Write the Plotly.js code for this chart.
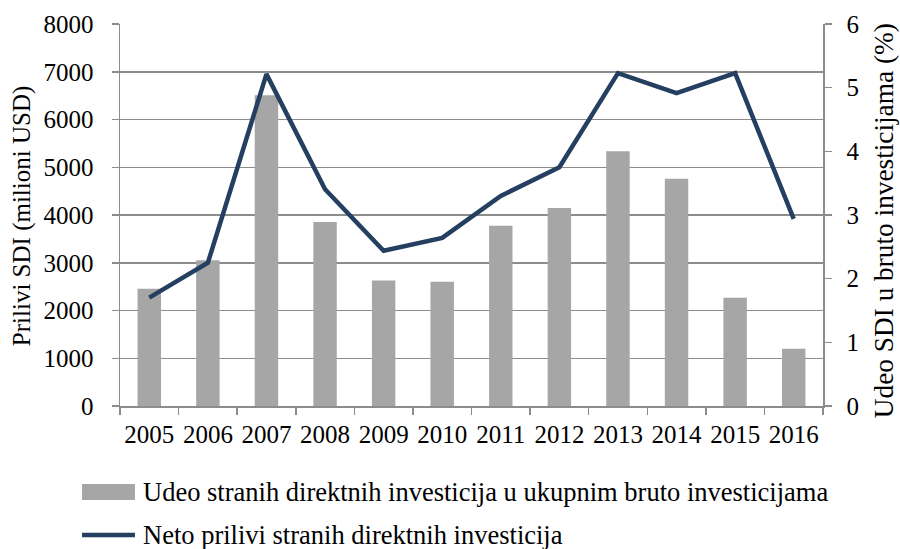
<!DOCTYPE html>
<html>
<head>
<meta charset="utf-8">
<script src="https://cdn.plot.ly/plotly-3.0.1.min.js"></script>
<style>html,body{margin:0;padding:0;background:#fff;}#chart{width:900px;height:549px;}</style>
</head>
<body>
<div id="chart"></div>
<script>
const years = ['2005','2006','2007','2008','2009','2010','2011','2012','2013','2014','2015','2016'];
// Udeo stranih direktnih investicija u ukupnim bruto investicijama (%) - bars, right axis
const sharePct = [1.84, 2.29, 4.88, 2.89, 1.97, 1.95, 2.83, 3.11, 4.0, 3.57, 1.70, 0.90];
// Neto prilivi stranih direktnih investicija (milioni USD) - line, left axis
const netInflows = [2270, 3000, 6950, 4540, 3250, 3520, 4400, 5000, 6970, 6550, 6970, 3920];
const barName = 'Udeo stranih direktnih investicija u ukupnim bruto investicijama';
const lineName = 'Neto prilivi stranih direktnih investicija';
const leftTitle = 'Prilivi SDI (milioni USD)';
const rightTitle = 'Udeo SDI u bruto investicijama (%)';

const FONT = 'Liberation Serif';
const lineColor = '#243f60';
const barColor = '#a6a6a6';
const gridColor = '#8c8c8c';

const traces = [
  {type:'bar', x: years, y: sharePct, name: barName, yaxis:'y',
   marker:{color: barColor}, hoverinfo:'skip'},
  {type:'scatter', mode:'lines', x: years, y: netInflows, name: lineName, yaxis:'y2',
   line:{color: lineColor, width:4.5}, hoverinfo:'skip'}
];

const layout = {
  width:900, height:549,
  margin:{l:120, r:77, t:24, b:143},
  paper_bgcolor:'#fff', plot_bgcolor:'#fff',
  font:{family: FONT, size:25, color:'#000'},
  showlegend:false,
  bargap:0.6,
  xaxis:{type:'category', tickson:'boundaries', ticks:'outside', ticklen:7, tickcolor:gridColor,
         tickwidth:1.5, showline:true, linecolor:gridColor, linewidth:1.5, showgrid:false,
         tickangle:0, ticklabelstandoff:5, tickfont:{family:FONT, size:25}},
  yaxis:{side:'right', range:[0,6], dtick:1, showgrid:false, zeroline:false,
         showline:true, linecolor:gridColor, linewidth:1.5, ticks:'outside', ticklen:7,
         tickcolor:gridColor, tickwidth:1.5, ticklabelstandoff:10, tickfont:{family:FONT, size:25}},
  yaxis2:{overlaying:'y', side:'left', range:[0,8000], dtick:1000, showgrid:true,
          gridcolor:gridColor, gridwidth:1.5, zeroline:false, showline:true,
          linecolor:gridColor, linewidth:1.5, ticks:'outside', ticklen:7, tickcolor:gridColor,
          tickwidth:1.5, ticklabelstandoff:13, tickfont:{family:FONT, size:25}},
  shapes:[
    {type:'rect', xref:'paper', yref:'paper', x0:-0.054, x1:0.0213, y0:-0.246, y1:-0.204,
     fillcolor:barColor, line:{width:0}},
    {type:'line', xref:'paper', yref:'paper', x0:-0.054, x1:0.0213, y0:-0.3377, y1:-0.3377,
     line:{color:lineColor, width:4.5}}
  ],
  annotations:[
    {xref:'paper', yref:'paper', x:0.0299, y:-0.225, xanchor:'left', yanchor:'middle',
     text: barName, showarrow:false, font:{family:FONT, size:26.5}},
    {xref:'paper', yref:'paper', x:0.0299, y:-0.3377, xanchor:'left', yanchor:'middle',
     text: lineName, showarrow:false, font:{family:FONT, size:26.5}},
    {xref:'paper', yref:'paper', x:-0.1394, y:0.497, xanchor:'center', yanchor:'middle',
     textangle:-90, text: leftTitle, showarrow:false, font:{family:FONT, size:25}},
    {xref:'paper', yref:'paper', x:1.0868, y:0.484, xanchor:'center', yanchor:'middle',
     textangle:-90, text: rightTitle, showarrow:false, font:{family:FONT, size:27.3}}
  ]
};

Plotly.newPlot('chart', traces, layout, {displayModeBar:false, staticPlot:true});
</script>
</body>
</html>
